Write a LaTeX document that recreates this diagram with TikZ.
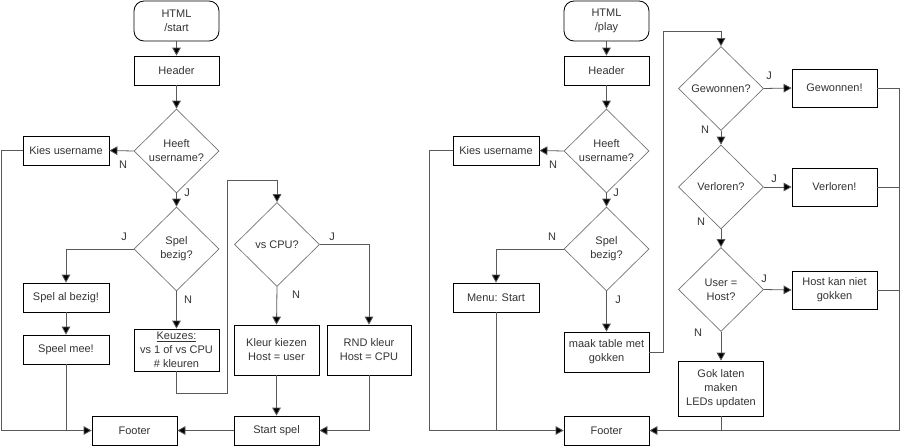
\documentclass[tikz,border=0pt]{standalone}
\usepackage{fontspec}
\setmainfont{Liberation Sans}
\usetikzlibrary{shapes.geometric,arrows.meta}
\definecolor{linec}{HTML}{5A5A5A}
\definecolor{txtc}{HTML}{333333}
\definecolor{diac}{HTML}{707070}
\begin{document}
\begin{tikzpicture}[x=0.75pt,y=-0.75pt,
  every node/.style={font=\fontsize{8.25}{10.5}\selectfont,text=txtc},
  box/.style={draw=black,line width=0.6pt,rectangle,align=center,inner sep=1pt,minimum width=63.75pt,minimum height=21.75pt},
  term/.style={box,rounded corners=7.5pt,minimum height=30pt},
  dia/.style={draw=diac,line width=0.5pt,diamond,align=center,inner sep=0pt,minimum width=63.75pt,minimum height=63pt},
  conn/.style={draw=linec,line width=0.6pt},
  arr/.style={conn,-{Triangle[length=6pt,width=6.5pt,fill=black]}},
  lbl/.style={inner sep=0pt}
]
\useasboundingbox (0,0) rectangle (900,446);

% ---------- left chart ----------
\node[term] (s1) at (176.5,21) {HTML\\/start};
\node[box] (h1) at (176.5,70.5) {Header};
\node[dia] (d1) at (176.5,151) {Heeft\\username?};
\node[box,minimum width=64.5pt] (k1) at (66,150.5) {Kies username};
\node[dia] (d2) at (176.5,249) {Spel\\bezig?};
\node[box,minimum width=64.5pt] (sab) at (66,297.5) {Spel al bezig!};
\node[box,minimum width=64.5pt] (sm) at (66,349.5) {Speel mee!};
\node[box,minimum height=31.5pt] (kz) at (176.5,350) {\underline{Keuzes:}\\vs 1 of vs CPU\\\# kleuren};
\node[dia] (d3) at (277,244.5) {vs CPU?};
\node[box,minimum height=37.5pt] (kk) at (276.5,350) {Kleur kiezen\\Host = user};
\node[box,minimum width=63pt,minimum height=37.5pt] (rnd) at (369,350) {RND kleur\\Host = CPU};
\node[box] (ss) at (276.5,430.5) {Start spel};
\node[box] (f1) at (134.5,430.5) {Footer};

\coordinate (lA) at (1,150.5);
\coordinate (lB) at (1,430.5);
\coordinate (lC) at (66,430.5);
\coordinate (lD) at (176.5,393);
\coordinate (lE) at (227,393);
\coordinate (lF) at (227,180);
\coordinate (lG) at (277,180);

\draw[arr] (s1) -- (h1);
\draw[arr] (h1) -- (d1);
\draw[arr] (d1.west) -- (k1.east);
\draw[arr] (k1.west) -- (lA) -- (lB) -- (f1.west);
\draw[arr] (d1.south) -- (d2.north);
\draw[arr] (d2.west) -| (sab.north);
\draw[arr] (sab) -- (sm);
\draw[conn] (sm.south) -- (lC);
\draw[arr] (d2.south) -- (kz.north);
\draw[arr] (kz.south) -- (lD) -- (lE) -- (lF) -- (lG) -- (d3.north);
\draw[arr] (d3.east) -| (rnd.north);
\draw[arr] (d3.south) -- (kk.north);
\draw[arr] (kk.south) -- (ss.north);
\draw[arr] (rnd.south) |- (ss.east);
\draw[arr] (ss.west) -- (f1.east);

\node[lbl] (n1) at (123,164.5) {N};
\node[lbl] (j1) at (187,193) {J};
\node[lbl] (j2) at (124,237) {J};
\node[lbl] (n2) at (188,300) {N};
\node[lbl] (j3) at (332,237) {J};
\node[lbl] (n3) at (296,294.5) {N};

% ---------- right chart ----------
\node[term] (s2) at (606.5,21) {HTML\\/play};
\node[box] (h2) at (606.5,70.5) {Header};
\node[dia] (e1) at (606.5,151) {Heeft\\username?};
\node[box,minimum width=64.5pt] (k2) at (496,150.5) {Kies username};
\node[dia] (e2) at (606.5,249) {Spel\\bezig?};
\node[box,minimum width=64.5pt] (ms) at (496,297.5) {Menu: Start};
\node[box,minimum height=30pt] (mt) at (606.5,352) {maak table met\\gokken};
\node[dia] (g1) at (721,88.5) {Gewonnen?};
\node[box,minimum height=28.5pt] (gb) at (834.5,88) {Gewonnen!};
\node[dia] (v1) at (721,187) {Verloren?};
\node[box,minimum height=28.5pt] (vb) at (834.5,187) {Verloren!};
\node[dia] (u1) at (721,289.5) {User =\\Host?};
\node[box,minimum height=28.5pt] (hb) at (834.5,290) {Host kan niet\\gokken};
\node[box,minimum height=41.25pt] (gl) at (721,388.5) {Gok laten\\maken\\LEDs updaten};
\node[box] (f2) at (606.5,430.5) {Footer};

\coordinate (rA) at (429,150.5);
\coordinate (rB) at (429,430.5);
\coordinate (rC) at (496,430.5);
\coordinate (rD) at (663,352);
\coordinate (rE) at (663,31);
\coordinate (rF) at (721,31);
\coordinate (rG) at (899,88);
\coordinate (rH) at (899,430.5);
\coordinate (rI) at (899,187);
\coordinate (rJ) at (899,290);
\coordinate (rK) at (721,430.5);

\draw[arr] (s2) -- (h2);
\draw[arr] (h2) -- (e1);
\draw[arr] (e1.west) -- (k2.east);
\draw[arr] (k2.west) -- (rA) -- (rB) -- (f2.west);
\draw[arr] (e1.south) -- (e2.north);
\draw[arr] (e2.west) -| (ms.north);
\draw[conn] (ms.south) -- (rC);
\draw[arr] (e2.south) -- (mt.north);
\draw[arr] (mt.east) -- (rD) -- (rE) -- (rF) -- (g1.north);
\draw[arr] (g1.east) -- (gb.west);
\draw[arr] (gb.east) -- (rG) -- (rH) -- (f2.east);
\draw[arr] (g1.south) -- (v1.north);
\draw[arr] (v1.east) -- (vb.west);
\draw[conn] (vb.east) -- (rI);
\draw[arr] (v1.south) -- (u1.north);
\draw[arr] (u1.east) -- (hb.west);
\draw[conn] (hb.east) -- (rJ);
\draw[arr] (u1.south) -- (gl.north);
\draw[conn] (gl.south) -- (rK);

\node[lbl] (n4) at (553,164.5) {N};
\node[lbl] (j4) at (616,193) {J};
\node[lbl] (n5) at (552,237) {N};
\node[lbl] (j5) at (618,300) {J};
\node[lbl] (j6) at (769,76) {J};
\node[lbl] (n6) at (705,130) {N};
\node[lbl] (j7) at (774,179) {J};
\node[lbl] (n7) at (701,222) {N};
\node[lbl] (j8) at (764,279) {J};
\node[lbl] (n8) at (698,333) {N};
\end{tikzpicture}
\end{document}
